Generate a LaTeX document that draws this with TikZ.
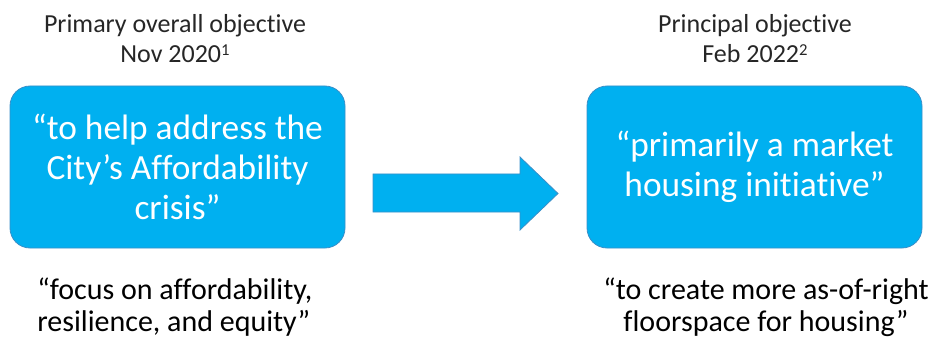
\documentclass[tikz,border=0pt]{standalone}
\usepackage{fontspec}
\setmainfont{Carlito}[Ligatures=NoCommon]
\definecolor{boxblue}{HTML}{00B0F0}
\definecolor{boxedge}{HTML}{3A8FC8}
\definecolor{headgrey}{HTML}{262626}
\newcommand{\refmark}[1]{\raisebox{0.3em}{\fontsize{12.5}{12.5}\selectfont #1}}

\begin{document}
\begin{tikzpicture}[x=0.75pt,y=-0.75pt,
    objbox/.style={rounded corners=15pt,draw=boxedge,line width=0.6pt,fill=boxblue,
      text=white,align=center,minimum width=251.25pt,minimum height=121.5pt,
      inner sep=0pt,font=\fontsize{26.5}{30}\selectfont},
    heading/.style={align=center,text=headgrey,inner sep=0pt,
      font=\fontsize{19.5}{22.5}\selectfont},
    remark/.style={text=black,inner sep=0pt,font=\fontsize{22.5}{24}\selectfont},
    blockarrow/.style={draw=boxedge,line width=0.6pt,fill=boxblue}]
  \useasboundingbox (0,0) rectangle (938,342);
  % headings
  \node[heading,anchor=base](h1)at(175,63){Primary overall objective\\Nov 2020\refmark{1}};
  \node[heading,anchor=base](h2)at(755,63){Principal objective\\Feb 2022\refmark{2}};
  % the two objectives
  \node[objbox](nov)at(177.5,167){“to help address the\\City’s Affordability\\crisis”};
  \node[objbox](feb)at(754.5,167){“primarily a market\\housing initiative”};
  \draw[blockarrow] (373,174) -- (520,174) -- (520,157) -- (558,193.5)
    -- (520,230) -- (520,212) -- (373,212) -- cycle;
  % quotes below
  \node[remark,align=left,anchor=base west](q1)at(37,331){“focus on affordability,\\resilience, and equity”};
  \node[remark,align=center,anchor=base](q2)at(766,331){“to create more as-of-right\\floorspace for housing”};
\end{tikzpicture}
\end{document}
